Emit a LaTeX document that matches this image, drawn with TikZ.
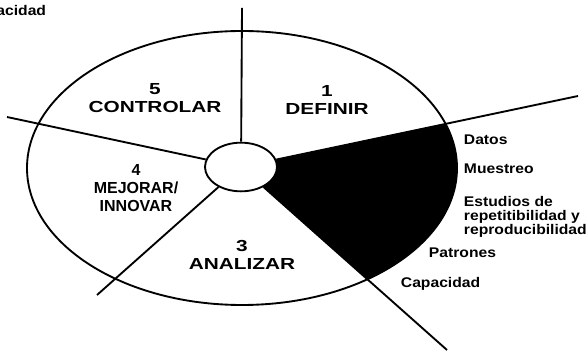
\documentclass[tikz,border=0pt]{standalone}
\usepackage{fontspec}
\usepackage{tikz}
\usetikzlibrary{shapes.geometric}
\newfontfamily\stagefont[FakeStretch=1.3]{Liberation Sans}
\newfontfamily\narrowfont{Liberation Sans}
\newfontfamily\notefont[FakeStretch=1.12]{Liberation Sans}
\begin{document}
\begin{tikzpicture}[x=0.75pt,y=-0.75pt,line width=1.4pt]
\tikzstyle{stage}=[inner sep=0pt,align=center,font=\stagefont\bfseries\fontsize{12}{13.5}\selectfont]
\tikzstyle{note}=[inner sep=0pt,align=left,font=\notefont\bfseries\fontsize{10.5}{10.5}\selectfont]
\tikzstyle{hubstyle}=[ellipse,draw,fill=white,inner sep=0pt,minimum width=54pt,minimum height=36.5pt]
\path[use as bounding box,fill=white] (0,0) rectangle (588,352);
\coordinate (mid) at (242,168);
\coordinate (hc) at (241,167);
\coordinate (top) at (242,8);
\coordinate (ul) at (7,117);
\coordinate (ll) at (97,295);
\coordinate (ur) at (578,96);
\coordinate (lr) at (447,350);
\draw (mid) ellipse [x radius=215,y radius=137];
\begin{scope}
\clip (mid) ellipse [x radius=215,y radius=137];
\fill (hc) -- (ur) -- (ur |- lr) -- (lr) -- cycle;
\end{scope}
\node[hubstyle] (hub) at (hc) {};
\draw (hub) -- (top);
\draw (hub) -- (ul);
\draw (hub) -- (ll);
\draw (hub) -- (ur);
\draw (hub) -- (lr);
\node[stage] (def) at (327,100) {1\\DEFINIR};
\node[stage] (ctl) at (155,98) {5\\CONTROLAR};
\node[stage,font=\narrowfont\bfseries\fontsize{12}{13.5}\selectfont] (mej) at (136,188.5) {4\\MEJORAR/\\INNOVAR};
\node[stage] (ana) at (242,255) {3\\ANALIZAR};
\node[note,anchor=base west] (dat) at (463,145) {Datos};
\node[note,anchor=base west] (mue) at (463,174) {Muestreo};
\node[note,anchor=north west] (est) at (463,195) {Estudios de\\repetitibilidad y\\reproducibilidad};
\node[note,anchor=base west] (pat) at (428,258) {Patrones};
\node[note,anchor=base west] (cap) at (400,287) {Capacidad};
\node[note,anchor=base east] (capcut) at (47,16) {Capacidad};
\end{tikzpicture}
\end{document}
